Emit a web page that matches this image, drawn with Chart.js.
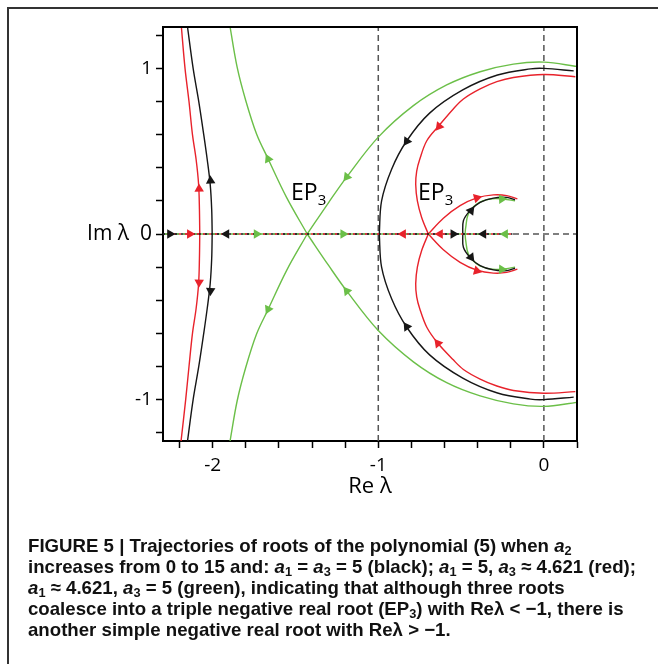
<!DOCTYPE html>
<html>
<head>
<meta charset="utf-8">
<script src="https://cdn.jsdelivr.net/npm/chart.js@4.4.0/dist/chart.umd.min.js"></script>
<style>
  html, body { margin: 0; padding: 0; background: #fff; }
  #page { position: relative; width: 658px; height: 664px; overflow: hidden; }
  #frame { position: absolute; left: 7px; top: 7px; width: 700px; height: 700px;
           border-top: 2px solid #333; border-left: 2px solid #333; }
  #wrap { position: absolute; left: 0; top: 0; width: 658px; height: 664px; }
  .ep { position: absolute; font-family: 'Open Sans'; font-size: 23px; line-height: 1; color: #000; white-space: nowrap; }
  .ep sub { font-size: 15px; vertical-align: -5px; line-height: 0; }
  #caption { position: absolute; left: 28px; top: 535px; transform-origin: 0 0;
             font-family: 'Liberation Sans', Arial, sans-serif;
             font-weight: bold; font-size: 19px; line-height: 21px; color: #111; }
  #caption .ln { white-space: nowrap; }
  #caption sub { font-size: 13px; vertical-align: -3px; line-height: 0; }
  #caption i { font-style: italic; }
</style>
</head>
<body>
<div id="page">
  <div id="frame"></div>
  <div id="wrap"><canvas id="rootsChart" width="658" height="664"></canvas></div>
  <div class="ep" style="left:291px; top:180px;">EP<sub>3</sub></div>
  <div class="ep" style="left:418px; top:180px;">EP<sub>3</sub></div>
  <div id="caption">
    <div class="ln">FIGURE 5 | Trajectories of roots of the polynomial (5) when <i>a</i><sub>2</sub></div>
    <div class="ln" id="widestLine">increases from 0 to 15 and: <i>a</i><sub>1</sub> = <i>a</i><sub>3</sub> = 5 (black); <i>a</i><sub>1</sub> = 5, <i>a</i><sub>3</sub> ≈ 4.621 (red);</div>
    <div class="ln"><i>a</i><sub>1</sub> ≈ 4.621, <i>a</i><sub>3</sub> = 5 (green), indicating that although three roots</div>
    <div class="ln">coalesce into a triple negative real root (EP<sub>3</sub>) with Reλ &lt; −1, there is</div>
    <div class="ln">another simple negative real root with Reλ &gt; −1.</div>
  </div>
</div>
<script>
// axes
const xTickValues = [-2.2, -2.0, -1.8, -1.6, -1.4, -1.2, -1.0, -0.8, -0.6, -0.4, -0.2, 0, 0.2];
const yTickValues = [-1.2, -1.0, -0.8, -0.6, -0.4, -0.2, 0, 0.2, 0.4, 0.6, 0.8, 1.0, 1.2];
const xTickLabels = { '-2': '-2', '-1': '-1', '0': '0' };
const yTickLabels = { '-1': '-1', '0': 'Im λ  0', '1': '1' };
const guideX = [-1, 0];
const guideY = [0];

// black: a1 = a3 = 5
const blackLeftUpX = [-2.003, -2.006, -2.015, -2.033, -2.054, -2.084, -2.118, -2.152];
const blackLeftUpY = [0, 0.15, 0.3, 0.45, 0.6, 0.8, 1.0, 1.25];
const blackLeftLowX = [-2.003, -2.006, -2.015, -2.033, -2.054, -2.084, -2.118, -2.152];
const blackLeftLowY = [0, -0.15, -0.3, -0.45, -0.6, -0.8, -1.0, -1.25];
const blackArcUpX = [-0.994, -0.98, -0.92, -0.83, -0.69, -0.49, -0.28, -0.08, 0.0, 0.18];
const blackArcUpY = [0, 0.2, 0.39, 0.56, 0.73, 0.87, 0.96, 0.997, 1.0, 0.985];
const blackArcLowX = [-0.994, -0.98, -0.92, -0.83, -0.69, -0.49, -0.28, -0.08, 0.0, 0.18];
const blackArcLowY = [0, -0.2, -0.39, -0.56, -0.73, -0.87, -0.96, -0.997, -1.0, -0.985];
const blackSmallUpX = [-0.49, -0.486, -0.446, -0.385, -0.305, -0.224, -0.174];
const blackSmallUpY = [0, 0.08, 0.141, 0.191, 0.217, 0.221, 0.207];
const blackSmallLowX = [-0.49, -0.486, -0.446, -0.385, -0.305, -0.224, -0.174];
const blackSmallLowY = [0, -0.08, -0.141, -0.191, -0.217, -0.221, -0.207];

// red: a1 = 5, a3 ~ 4.621
const redLeftUpX = [-2.078, -2.080, -2.085, -2.100, -2.122, -2.143, -2.167, -2.189];
const redLeftUpY = [0, 0.15, 0.3, 0.45, 0.6, 0.8, 1.0, 1.25];
const redLeftLowX = [-2.078, -2.080, -2.085, -2.100, -2.122, -2.143, -2.163, -2.191];
const redLeftLowY = [0, -0.15, -0.3, -0.45, -0.6, -0.8, -1.0, -1.25];
const redArcUpX = [-0.698, -0.738, -0.764, -0.774, -0.768, -0.75, -0.707, -0.633, -0.547, -0.486, -0.385, -0.284, -0.184, 0, 0.19];
const redArcUpY = [0, 0.1, 0.2, 0.3, 0.38, 0.45, 0.563, 0.655, 0.755, 0.815, 0.876, 0.92, 0.945, 0.963, 0.95];
const redArcLowX = [-0.698, -0.738, -0.764, -0.774, -0.768, -0.75, -0.707, -0.64, -0.547, -0.486, -0.385, -0.284, -0.184, 0, 0.19];
const redArcLowY = [0, -0.1, -0.2, -0.3, -0.38, -0.45, -0.563, -0.66, -0.76, -0.818, -0.876, -0.918, -0.945, -0.962, -0.952];
const redSmallUpX = [-0.698, -0.607, -0.506, -0.405, -0.305, -0.224, -0.16];
const redSmallUpY = [0, 0.095, 0.171, 0.218, 0.236, 0.232, 0.212];
const redSmallLowX = [-0.698, -0.607, -0.506, -0.405, -0.305, -0.224, -0.16];
const redSmallLowY = [0, -0.095, -0.171, -0.218, -0.236, -0.232, -0.212];

// green: a1 ~ 4.621, a3 = 5
const greenLeftUpX = [-1.429, -1.554, -1.665, -1.735, -1.800, -1.852, -1.895];
const greenLeftUpY = [0, 0.221, 0.453, 0.604, 0.805, 1.006, 1.25];
const greenLeftLowX = [-1.429, -1.554, -1.665, -1.735, -1.800, -1.852, -1.895];
const greenLeftLowY = [0, -0.221, -0.455, -0.604, -0.805, -1.007, -1.25];
const greenArcUpX = [-1.429, -1.3, -1.19, -1.0, -0.788, -0.587, -0.385, -0.184, 0, 0.2];
const greenArcUpY = [0, 0.19, 0.345, 0.585, 0.775, 0.90, 0.98, 1.026, 1.038, 1.012];
const greenArcLowX = [-1.429, -1.3, -1.19, -1.0, -0.788, -0.587, -0.385, -0.184, 0, 0.2];
const greenArcLowY = [0, -0.19, -0.345, -0.583, -0.772, -0.898, -0.978, -1.026, -1.041, -1.017];
const greenSmallUpX = [-0.476, -0.472, -0.456, -0.405, -0.325, -0.244, -0.174];
const greenSmallUpY = [0, 0.04, 0.121, 0.181, 0.211, 0.211, 0.2];
const greenSmallLowX = [-0.476, -0.472, -0.456, -0.405, -0.325, -0.244, -0.174];
const greenSmallLowY = [0, -0.04, -0.121, -0.181, -0.211, -0.211, -0.2];

// real axis part shared by all three families
const realAxisX = [-2.3, -0.19];
const realAxisY = [0, 0];

// arrow heads: position and direction (degrees, 0 = up, 90 = right)
const blackArrowX = [-2.258, -1.917, -0.547, -0.365, -2.013, -2.013, -0.828, -0.828, -0.44, -0.44];
const blackArrowY = [0, 0, 0, 0, 0.322, -0.342, 0.56, -0.56, 0.141, -0.141];
const blackArrowDir = [90, -90, 90, -90, -3, 183, -146, -34, 37, 143];
const redArrowX = [-2.138, -0.85, -0.627, -2.082, -2.082, -0.633, -0.64, -0.405, -0.405];
const redArrowY = [0, 0, 0, 0.272, -0.292, 0.65, -0.66, 0.218, -0.222];
const redArrowDir = [90, -90, -90, -2, 182, -141, -39, 75, 105];
const greenArrowX = [-1.735, -1.212, -0.234, -1.665, -1.665, -1.19, -1.19, -0.254, -0.254];
const greenArrowY = [0, 0, 0, 0.453, -0.455, 0.345, -0.345, 0.211, -0.213];
const greenArrowDir = [90, 90, -90, -25, -155, -142, -38, 88, 92];

const BLACK = '#161616';
const RED = '#e8222b';
const GREEN = '#6bbf48';
const GUIDE = '#555555';

function pts(xs, ys) {
    return xs.map((x, i) => ({ x: x, y: ys[i] }));
}

function curve(xs, ys, color) {
    return {
        data: pts(xs, ys), showLine: true, borderColor: color, borderWidth: 1.4,
        pointRadius: 0, tension: 0.35, order: 5
    };
}

function axisMix(color, offset) {
    return {
        data: pts(realAxisX, realAxisY), showLine: true, borderColor: color, borderWidth: 1.6,
        borderDash: [2, 4], borderDashOffset: offset, pointRadius: 0, order: 4
    };
}

function arrows(xs, ys, dirs, color) {
    return {
        data: pts(xs, ys), showLine: false, pointStyle: 'triangle', pointRadius: 5.5,
        pointRotation: dirs, backgroundColor: color, borderColor: color, borderWidth: 0, order: 0
    };
}

let guides = [];
guideX.forEach(function(gx) {
    guides.push({
        data: [{ x: gx, y: -1.25 }, { x: gx, y: 1.25 }], showLine: true, borderColor: GUIDE,
        borderWidth: 1.5, borderDash: [6, 4], pointRadius: 0, order: 10
    });
});
guideY.forEach(function(gy) {
    guides.push({
        data: [{ x: -2.3, y: gy }, { x: 0.2, y: gy }], showLine: true, borderColor: GUIDE,
        borderWidth: 1.5, borderDash: [6, 4], pointRadius: 0, order: 10
    });
});

const datasets = guides.concat([
    axisMix(BLACK, 0), axisMix(RED, 2), axisMix(GREEN, 4),
    curve(blackLeftUpX, blackLeftUpY, BLACK), curve(blackLeftLowX, blackLeftLowY, BLACK),
    curve(blackArcUpX, blackArcUpY, BLACK), curve(blackArcLowX, blackArcLowY, BLACK),
    curve(blackSmallUpX, blackSmallUpY, BLACK), curve(blackSmallLowX, blackSmallLowY, BLACK),
    curve(redLeftUpX, redLeftUpY, RED), curve(redLeftLowX, redLeftLowY, RED),
    curve(redArcUpX, redArcUpY, RED), curve(redArcLowX, redArcLowY, RED),
    curve(redSmallUpX, redSmallUpY, RED), curve(redSmallLowX, redSmallLowY, RED),
    curve(greenLeftUpX, greenLeftUpY, GREEN), curve(greenLeftLowX, greenLeftLowY, GREEN),
    curve(greenArcUpX, greenArcUpY, GREEN), curve(greenArcLowX, greenArcLowY, GREEN),
    curve(greenSmallUpX, greenSmallUpY, GREEN), curve(greenSmallLowX, greenSmallLowY, GREEN),
    arrows(blackArrowX, blackArrowY, blackArrowDir, BLACK),
    arrows(redArrowX, redArrowY, redArrowDir, RED),
    arrows(greenArrowX, greenArrowY, greenArrowDir, GREEN)
]);

// top and right sides of the plot box
const boxPlugin = {
    id: 'boxPlugin',
    afterDraw: function(chart) {
        const a = chart.chartArea;
        const ctx = chart.ctx;
        ctx.save();
        ctx.strokeStyle = '#000';
        ctx.lineWidth = 2;
        ctx.beginPath();
        ctx.moveTo(a.left, a.top);
        ctx.lineTo(a.right, a.top);
        ctx.lineTo(a.right, a.bottom);
        ctx.stroke();
        ctx.restore();
    }
};

const tickFont = { family: 'Open Sans', size: 19 };

new Chart(document.getElementById('rootsChart').getContext('2d'), {
    type: 'scatter',
    data: { datasets: datasets },
    plugins: [boxPlugin],
    options: {
        responsive: false,
        animation: false,
        devicePixelRatio: 1,
        layout: { padding: { top: 27, right: 81, left: 0, bottom: 164 } },
        plugins: { legend: { display: false }, tooltip: { enabled: false } },
        scales: {
            x: {
                type: 'linear', min: -2.3, max: 0.2,
                afterFit: function(s) { s.height = 59; },
                afterBuildTicks: function(s) { s.ticks = xTickValues.map(v => ({ value: v })); },
                ticks: {
                    autoSkip: false, maxRotation: 0, padding: 6, color: '#000', font: tickFont,
                    callback: function(v) { return xTickLabels[String(v)] || ''; }
                },
                grid: { drawOnChartArea: false, tickLength: 7, tickColor: '#000', tickWidth: 1.5 },
                border: { color: '#000', width: 2 },
                title: { display: true, text: 'Re λ', color: '#000', font: { family: 'Open Sans', size: 22 }, padding: 0 }
            },
            y: {
                type: 'linear', min: -1.25, max: 1.25,
                afterFit: function(s) { s.width = 163; },
                afterBuildTicks: function(s) { s.ticks = yTickValues.map(v => ({ value: v })); },
                ticks: {
                    autoSkip: false, padding: 4, color: '#000',
                    font: function(ctx) {
                        return ctx.tick && ctx.tick.value === 0 ? { family: 'Open Sans', size: 21 } : tickFont;
                    },
                    callback: function(v) { return yTickLabels[String(v)] || ''; }
                },
                grid: { drawOnChartArea: false, tickLength: 7, tickColor: '#000', tickWidth: 1.5 },
                border: { color: '#000', width: 2 }
            }
        }
    }
});

// condensed caption: squeeze the wide bold face to the printed line width
const caption = document.getElementById('caption');
const widest = document.getElementById('widestLine');
const squeeze = 608 / widest.getBoundingClientRect().width;
caption.style.transform = 'scaleX(' + squeeze + ')';
</script>
</body>
</html>
